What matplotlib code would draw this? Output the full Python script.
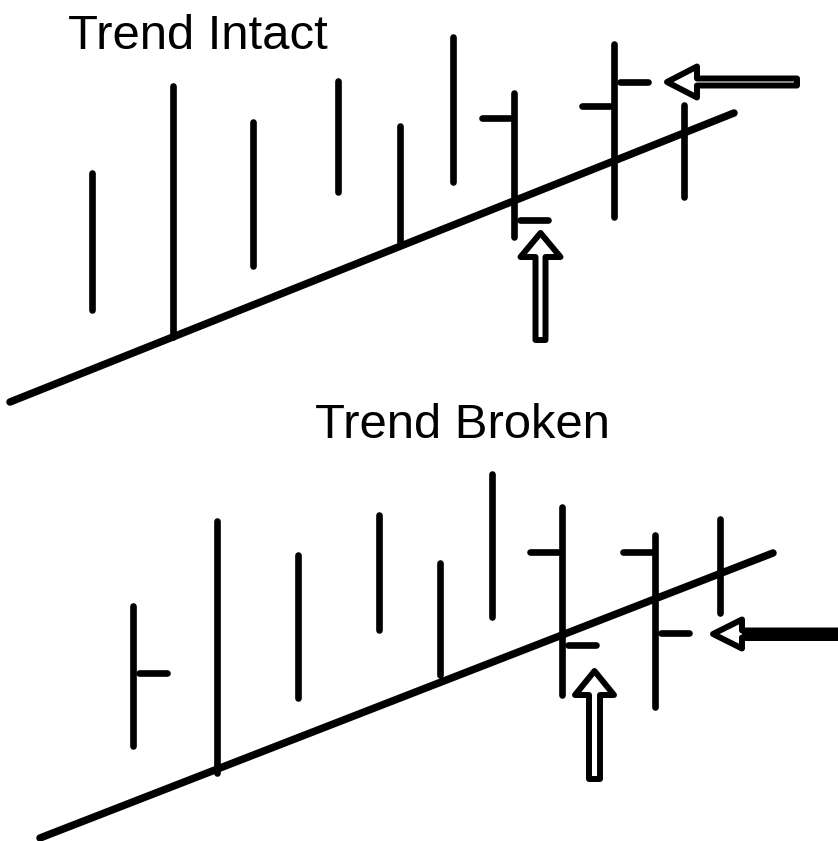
import matplotlib
matplotlib.use("Agg")
import matplotlib.pyplot as plt
from matplotlib.patches import Polygon, Rectangle

W, H = 838, 841

# ---- Top panel: "Trend Intact" (pixel coordinates, y downward) ----
top_x    = [92, 173, 253, 338, 400, 453, 514, 614, 684]
top_high = [173, 86, 122, 81, 126, 37, 93, 44, 105]
top_low  = [310, 337, 266, 192, 242, 182, 237, 217, 197]
top_open  = [None, None, None, None, None, None, 118, 106, None]
top_close = [None, None, None, None, None, None, 220, 82, None]
top_trend_x = [10, 734]
top_trend_y = [402, 113]

# ---- Bottom panel: "Trend Broken" ----
bot_x    = [133, 217, 298, 379, 440, 492, 562, 655, 720]
bot_high = [606, 521, 555, 515, 563, 474, 507, 535, 519]
bot_low  = [746, 773, 698, 630, 675, 617, 695, 707, 613]
bot_open  = [None, None, None, None, None, None, 552, 552, None]
bot_close = [673, None, None, None, None, None, 645, 633, None]
bot_trend_x = [40, 773]
bot_trend_y = [838, 553]

titles = ["Trend Intact", "Trend Broken"]

fig = plt.figure(figsize=(W / 100, H / 100), dpi=100)
ax = fig.add_axes([0, 0, 1, 1])
ax.set_xlim(0, W)
ax.set_ylim(H, 0)
ax.axis("off")

BAR_LW = 4.8
TICK_W = 32
ARROW_LW = 4.3

def draw_bars(xs, hi, lo, op, cl):
    for x, h, l, o, c in zip(xs, hi, lo, op, cl):
        ax.plot([x, x], [h, l], color="black", lw=BAR_LW, solid_capstyle="round")
        if o is not None:
            ax.plot([x - TICK_W, x - 4], [o, o], color="black", lw=BAR_LW, solid_capstyle="round")
        if c is not None:
            ax.plot([x + 6, x + TICK_W + 2], [c, c], color="black", lw=BAR_LW, solid_capstyle="round")

draw_bars(top_x, top_high, top_low, top_open, top_close)
draw_bars(bot_x, bot_high, bot_low, bot_open, bot_close)

ax.plot(top_trend_x, top_trend_y, color="black", lw=5.4, solid_capstyle="round")
ax.plot(bot_trend_x, bot_trend_y, color="black", lw=5.4, solid_capstyle="round")

def up_arrow(tip_x, tip_y, head_base, head_half, shaft_half, bottom):
    pts = [(tip_x, tip_y), (tip_x + head_half, head_base), (tip_x + shaft_half, head_base),
           (tip_x + shaft_half, bottom), (tip_x - shaft_half, bottom),
           (tip_x - shaft_half, head_base), (tip_x - head_half, head_base)]
    ax.add_patch(Polygon(pts, closed=True, facecolor="white", edgecolor="black",
                         lw=ARROW_LW, joinstyle="round"))

def left_arrow(tip_x, tip_y, head_base, head_half, shaft_half, right, solid):
    pts = [(tip_x, tip_y), (head_base, tip_y - head_half), (head_base, tip_y - shaft_half),
           (right, tip_y - shaft_half), (right, tip_y + shaft_half),
           (head_base, tip_y + shaft_half), (head_base, tip_y + head_half)]
    ax.add_patch(Polygon(pts, closed=True, facecolor="white", edgecolor="black",
                         lw=ARROW_LW, joinstyle="round"))
    if solid:
        ax.add_patch(Rectangle((head_base, tip_y - shaft_half - 3), right - head_base,
                               2 * shaft_half + 6, facecolor="black", edgecolor="none"))

up_arrow(540.5, 233, 257, 20, 5, 340)
left_arrow(667, 82, 697, 15.5, 3.5, 797, False)
up_arrow(594.5, 671, 695, 19.5, 5.5, 779)
left_arrow(713, 634, 742, 14.5, 3.5, 845, True)

ax.text(68, 49, titles[0], fontsize=35.3, family="Liberation Sans", ha="left", va="baseline")
ax.text(315, 438, titles[1], fontsize=35.3, family="Liberation Sans", ha="left", va="baseline")

fig.savefig("out.png", dpi=100)
